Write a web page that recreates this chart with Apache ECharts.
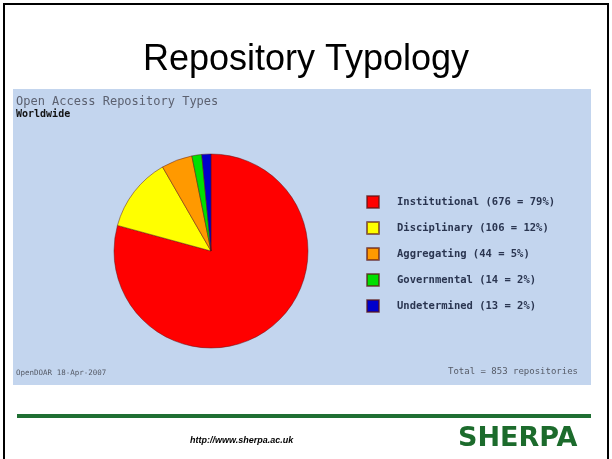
<!DOCTYPE html>
<html>
<head>
<meta charset="utf-8">
<script src="https://cdn.jsdelivr.net/npm/echarts@6/dist/echarts.min.js"></script>
<style>
  html, body { margin: 0; padding: 0; background: #fff; }
  #main { width: 612px; height: 459px; }
</style>
</head>
<body>
<div id="main"></div>
<script>
// repository types (OpenDOAR)
const categories = ['Institutional', 'Disciplinary', 'Aggregating', 'Governmental', 'Undetermined'];
const counts = [676, 106, 44, 14, 13];
const colors = ['#ff0000', '#ffff00', '#ff9900', '#00e000', '#0000cc'];
const total = 853;

const myChart = echarts.init(document.getElementById('main'));

const pieData = categories.map((c, i) => ({
    name: c,
    value: counts[i],
    itemStyle: { color: colors[i] }
}));

const mono = '"DejaVu Sans Mono", monospace';

var option = {
    backgroundColor: '#ffffff',
    animation: false,
    legend: {
        orient: 'vertical',
        left: 361,
        top: 190,
        itemWidth: 12,
        itemHeight: 12,
        itemGap: 12,
        icon: 'rect',
        data: categories,
        formatter: function (name) {
            const i = categories.indexOf(name);
            const pct = Math.round(counts[i] / total * 100);
            return name + ' (' + counts[i] + ' = ' + pct + '%)';
        },
        textStyle: {
            fontFamily: mono,
            fontSize: 10.5,
            fontWeight: 'bold',
            color: '#2a3550',
            padding: [0, 0, 0, 13]
        }
    },
    graphic: [
        // slide frame
        { type: 'rect', shape: { x: 4, y: 4, width: 604, height: 470 },
          style: { fill: null, stroke: '#000', lineWidth: 2 }, z: 1 },
        // blue panel
        { type: 'rect', shape: { x: 13, y: 89, width: 578, height: 296 },
          style: { fill: '#c3d5ee' }, z: 0 },
        { type: 'text', left: 'center', top: 42,
          style: { text: 'Repository Typology', font: '36px "Liberation Sans", Arial', fill: '#000' } },
        { type: 'text', left: 16, top: 96,
          style: { text: 'Open Access Repository Types', font: '12px ' + mono, fill: '#5c6170' } },
        { type: 'text', left: 16, top: 109,
          style: { text: 'Worldwide', font: 'bold 10px ' + mono, fill: '#111' } },
        { type: 'text', left: 16, top: 369,
          style: { text: 'OpenDOAR 18-Apr-2007', font: '7.5px ' + mono, fill: '#555a66' } },
        { type: 'text', right: 34, top: 367,
          style: { text: 'Total = ' + total + ' repositories', font: '9px ' + mono, fill: '#555a66' } },
        // green rule
        { type: 'rect', shape: { x: 17, y: 414, width: 574, height: 4 },
          style: { fill: '#1f6f33' } },
        { type: 'text', left: 190, top: 436,
          style: { text: 'http://www.sherpa.ac.uk', font: 'italic bold 9px "Liberation Sans", Arial', fill: '#000' } },
        { type: 'text', left: 458, top: 425,
          style: { text: 'SHERPA', font: '900 27px "DejaVu Sans", sans-serif', fill: '#1c6b2c' } }
    ],
    series: [
        {
            name: 'Repository Types',
            type: 'pie',
            center: [211, 251],
            radius: 97,
            startAngle: 90,
            clockwise: true,
            label: { show: false },
            labelLine: { show: false },
            itemStyle: { borderColor: 'rgba(90,20,20,0.6)', borderWidth: 0.8 },
            emphasis: { disabled: true },
            data: pieData
        }
    ]
};

myChart.setOption(option);
</script>
</body>
</html>
